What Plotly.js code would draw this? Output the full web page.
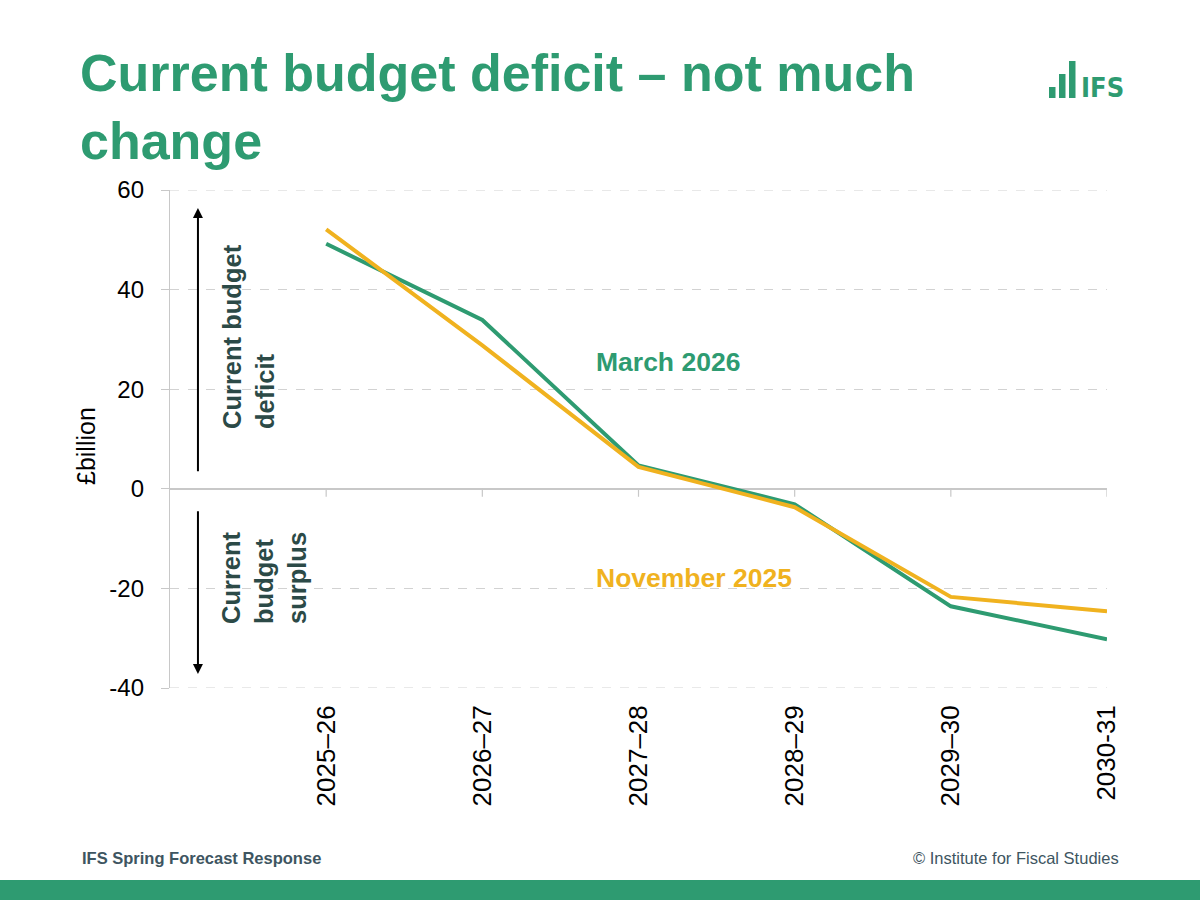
<!DOCTYPE html>
<html>
<head>
<meta charset="utf-8">
<script src="https://cdn.plot.ly/plotly-3.0.1.min.js"></script>
<style>
  html, body { margin: 0; padding: 0; background: #ffffff; }
  #chart { width: 1200px; height: 900px; }
</style>
</head>
<body>
<div id="chart"></div>
<script>
// Fiscal years on the horizontal axis
const years = ['2025–26', '2026–27', '2027–28', '2028–29', '2029–30', '2030-31'];

// Current budget deficit, £ billion
const march2026 = [49.2, 33.9, 4.7, -3.1, -23.6, -30.2];
const november2025 = [52.1, 28.8, 4.4, -3.7, -21.7, -24.6];

// Y-axis ticks and their labels (plain hyphen for negatives)
const yTicks = [-40, -20, 0, 20, 40, 60];
const yTickText = ['-40', '-20', '0', '20', '40', '60'];

const GREEN = '#2E9B71';
const YELLOW = '#F0B21F';
const DARK = '#2C4A47';
const GRID = '#D2D2D2';
const FONT = 'Liberation Sans, Arial, Helvetica, sans-serif';

// Page geometry: plot area occupies x 170..1107, y 190..688 of a 1200x900 page
const W = 1200, H = 900;
const M = { l: 170, r: 93, t: 190, b: 212 };
const plotW = W - M.l - M.r;
const plotH = H - M.t - M.b;
const px = x => (x - M.l) / plotW;        // page pixel -> paper x
const py = y => (H - M.b - y) / plotH;    // page pixel -> paper y

const traces = [
  {
    type: 'scatter', mode: 'lines', name: 'March 2026',
    x: years.map((_, i) => i), y: march2026,
    line: { color: GREEN, width: 4 },
    hoverinfo: 'skip'
  },
  {
    type: 'scatter', mode: 'lines', name: 'November 2025',
    x: years.map((_, i) => i), y: november2025,
    line: { color: YELLOW, width: 4 },
    hoverinfo: 'skip'
  }
];

// Small downward tick marks on the zero line at each year
const tickShapes = years.map((_, i) => ({
  type: 'line', xref: 'x', yref: 'y',
  x0: i, x1: i, y0: 0, y1: -1.6,
  line: { color: '#C8C8C8', width: 1.2 }
}));

// Dashed gridlines along the top and bottom edges of the plot
const edgeGrid = [yTicks[0], yTicks[yTicks.length - 1]].map(v => ({
  type: 'line', xref: 'paper', yref: 'y',
  x0: 0, x1: 1, y0: v, y1: v,
  line: { color: GRID, width: 1, dash: 'dash' }, layer: 'below'
}));

const shapes = tickShapes.concat(edgeGrid, [
  // footer band
  { type: 'rect', xref: 'paper', yref: 'paper',
    x0: px(0), x1: px(W), y0: py(900), y1: py(880),
    fillcolor: GREEN, line: { width: 0 }, layer: 'below' },
  // logo bars
  { type: 'rect', xref: 'paper', yref: 'paper',
    x0: px(1049), x1: px(1055.5), y0: py(98), y1: py(87),
    fillcolor: GREEN, line: { width: 0 } },
  { type: 'rect', xref: 'paper', yref: 'paper',
    x0: px(1059), x1: px(1065.5), y0: py(98), y1: py(74),
    fillcolor: GREEN, line: { width: 0 } },
  { type: 'rect', xref: 'paper', yref: 'paper',
    x0: px(1069), x1: px(1075.5), y0: py(98), y1: py(61),
    fillcolor: GREEN, line: { width: 0 } }
]);

const centred = { xanchor: 'center', yanchor: 'middle', showarrow: false };

const annotations = [
  // y-axis label
  Object.assign({ xref: 'paper', yref: 'paper', x: px(86), y: py(446),
    text: '£billion', textangle: -90,
    font: { family: FONT, size: 25, color: '#000000' } }, centred),
  // direction arrows
  { xref: 'x', yref: 'y', axref: 'x', ayref: 'y',
    x: -0.821, y: 56.4, ax: -0.821, ay: 3.2, text: '',
    showarrow: true, arrowhead: 2, arrowsize: 1, arrowwidth: 2, arrowcolor: '#000000', standoff: 0 },
  { xref: 'x', yref: 'y', axref: 'x', ayref: 'y',
    x: -0.821, y: -37.2, ax: -0.821, ay: -4.2, text: '',
    showarrow: true, arrowhead: 2, arrowsize: 1, arrowwidth: 2, arrowcolor: '#000000', standoff: 0 },
  // region labels
  Object.assign({ xref: 'paper', yref: 'paper', x: px(248), y: py(337),
    text: '<b>Current budget<br>deficit</b>', textangle: -90, align: 'left',
    font: { family: FONT, size: 25.5, color: DARK } }, centred),
  Object.assign({ xref: 'paper', yref: 'paper', x: px(264), y: py(578),
    text: '<b>Current<br>budget<br>surplus</b>', textangle: -90, align: 'left',
    font: { family: FONT, size: 25.5, color: DARK } }, centred),
  // series labels
  { xref: 'paper', yref: 'paper', x: px(594), y: py(362), xanchor: 'left', yanchor: 'middle',
    text: '<b>March 2026</b>', showarrow: false,
    font: { family: FONT, size: 26.5, color: GREEN } },
  { xref: 'paper', yref: 'paper', x: px(594), y: py(578), xanchor: 'left', yanchor: 'middle',
    text: '<b>November 2025</b>', showarrow: false,
    font: { family: FONT, size: 26.5, color: YELLOW } },
  // logo text
  { xref: 'paper', yref: 'paper', x: px(1079), y: py(87.5), xanchor: 'left', yanchor: 'middle',
    text: '<b>IFS</b>', showarrow: false,
    font: { family: 'DejaVu Sans Condensed, Liberation Sans Narrow, ' + FONT, size: 27, color: GREEN } },
  // footer texts
  { xref: 'paper', yref: 'paper', x: px(80), y: py(858), xanchor: 'left', yanchor: 'middle',
    text: '<b>IFS Spring Forecast Response</b>', showarrow: false,
    font: { family: FONT, size: 16.5, color: '#3E5561' } },
  { xref: 'paper', yref: 'paper', x: px(1121), y: py(858), xanchor: 'right', yanchor: 'middle',
    text: '© Institute for Fiscal Studies', showarrow: false,
    font: { family: FONT, size: 16.5, color: '#3E5561' } }
];

const layout = {
  width: W, height: H,
  margin: M,
  paper_bgcolor: '#ffffff', plot_bgcolor: '#ffffff',
  showlegend: false,
  title: {
    text: '<b>Current budget deficit – not much<br>change</b>',
    xref: 'container', yref: 'container',
    x: 80 / W, xanchor: 'left',
    y: 1 - 91 / H, yanchor: 'top',
    font: { family: FONT, size: 52, color: GREEN }
  },
  xaxis: {
    range: [-1, 5],
    tickmode: 'array',
    tickvals: years.map((_, i) => i),
    ticktext: years,
    tickangle: -90,
    ticks: '',
    showgrid: false, showline: false, zeroline: false,
    ticklabelstandoff: 11,
    tickfont: { family: FONT, size: 26, color: '#000000' },
    fixedrange: true
  },
  yaxis: {
    range: [-40, 60],
    tickmode: 'array',
    tickvals: yTicks,
    ticktext: yTickText,
    ticks: 'outside', ticklen: 8, tickcolor: '#C8C8C8', tickwidth: 1,
    showline: true, linecolor: '#C8C8C8', linewidth: 1.2,
    showgrid: true, gridcolor: GRID, griddash: 'dash', gridwidth: 1,
    zeroline: true, zerolinecolor: '#C8C8C8', zerolinewidth: 1.5,
    ticklabelstandoff: 12,
    tickfont: { family: FONT, size: 24, color: '#000000' },
    fixedrange: true
  },
  shapes: shapes,
  annotations: annotations
};

Plotly.newPlot('chart', traces, layout, { displayModeBar: false, staticPlot: true });
</script>
</body>
</html>
